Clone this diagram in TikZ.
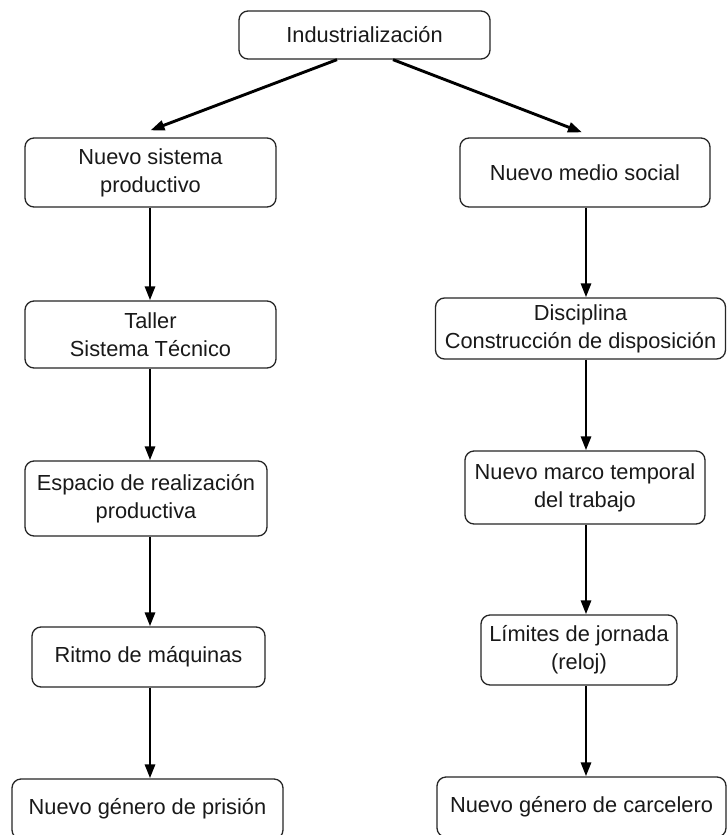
\documentclass[tikz,border=0pt]{standalone}
\usepackage{fontspec}
\setmainfont{Liberation Sans}
\usetikzlibrary{arrows.meta,calc}
\begin{document}
\begin{tikzpicture}[x=1pt,y=-1pt,
  box/.style={draw=black!85,line width=1.3pt,rounded corners=9pt,align=center,inner sep=0pt,
    font=\fontsize{21.8}{28}\selectfont,text=black!90},
  arr/.style={line width=2.9pt,draw=black,-{Triangle[length=14pt,width=10pt]}}]
\useasboundingbox (0,0) rectangle (727,835);
\fill[white] (0,0) rectangle (727,835);
% top
\node[box,minimum width=251pt,minimum height=48pt] (T) at (364.5,35) {Industrialización};
% left column
\node[box,minimum width=251pt,minimum height=69pt] (L1) at (150.5,172.5) {Nuevo sistema\\productivo};
\node[box,minimum width=251pt,minimum height=67pt] (L2) at (150.5,334.5) {Taller\\Sistema Técnico};
\node[box,minimum width=242pt,minimum height=75pt] (L3) at (146,498.5) {Espacio de realización\\productiva};
\node[box,minimum width=233pt,minimum height=60pt] (L4) at (148.5,657) {Ritmo de máquinas};
\node[box,minimum width=271pt,minimum height=60pt] (L5) at (147.5,809) {Nuevo género de prisión};
% right column
\node[box,minimum width=250pt,minimum height=69pt] (R1) at (585,172.5) {Nuevo medio social};
\node[box,minimum width=290pt,minimum height=61pt] (R2) at (580.5,328.5) {Disciplina\\Construcción de disposición};
\node[box,minimum width=240pt,minimum height=73pt] (R3) at (585,487.5) {Nuevo marco temporal\\del trabajo};
\node[box,minimum width=196pt,minimum height=70pt] (R4) at (579,650) {Límites de jornada\\(reloj)};
\node[box,minimum width=289pt,minimum height=60pt] (R5) at (581.5,807) {Nuevo género de carcelero};
% arrow axes
\coordinate (xl) at (150,0);
\coordinate (xr) at (586,0);
% diagonal arrows
\draw[arr] ([xshift=-27.5pt]T.south) -- ([yshift=7pt]L1.north);
\draw[arr] ([xshift=28.5pt]T.south) -- ([xshift=-3pt,yshift=5pt]R1.north);
% vertical arrows
\draw[arr] (L1.south -| xl) -- (L2.north -| xl);
\draw[arr] (L2.south -| xl) -- (L3.north -| xl);
\draw[arr] (L3.south -| xl) -- (L4.north -| xl);
\draw[arr] (L4.south -| xl) -- (L5.north -| xl);
\draw[arr] (R1.south -| xr) -- (R2.north -| xr);
\draw[arr] (R2.south -| xr) -- (R3.north -| xr);
\draw[arr] (R3.south -| xr) -- (R4.north -| xr);
\draw[arr] (R4.south -| xr) -- (R5.north -| xr);
\end{tikzpicture}
\end{document}
